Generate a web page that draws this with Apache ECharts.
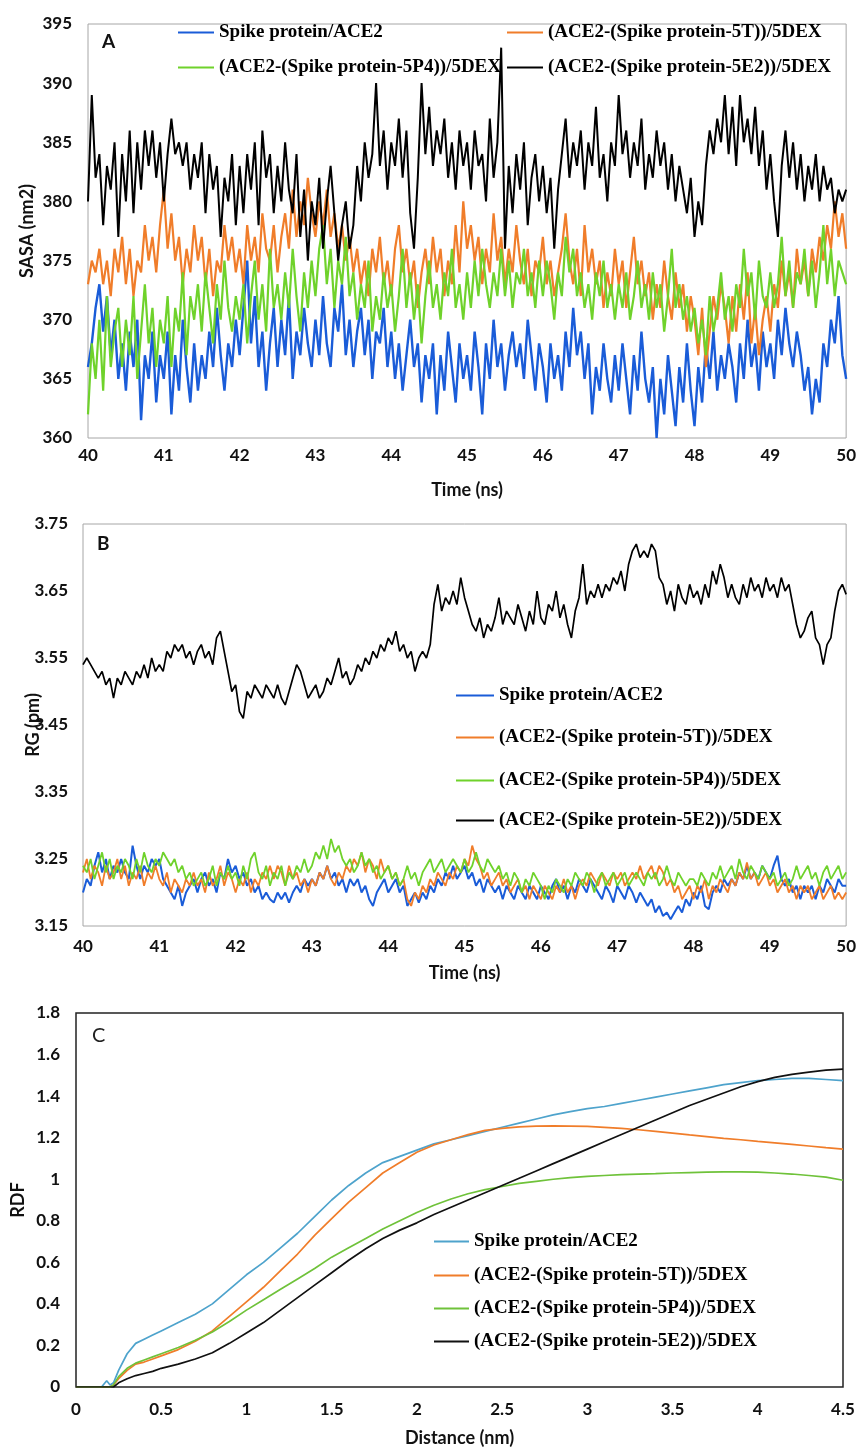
<!DOCTYPE html>
<html>
<head>
<meta charset="utf-8">
<script src="https://cdn.jsdelivr.net/npm/echarts@6.0.0/dist/echarts.min.js"></script>
<style>
html,body{margin:0;padding:0;background:#fff;}
#chart{width:859px;height:1448px;}
</style>
</head>
<body>
<div id="chart"></div>
<script>
// ---------- names ----------
const seriesNames = [
  'Spike protein/ACE2',
  '(ACE2-(Spike protein-5T))/5DEX',
  '(ACE2-(Spike protein-5P4))/5DEX',
  '(ACE2-(Spike protein-5E2))/5DEX'
];

// ---------- time grid (ns), 40 to 50 ----------
const TIME_START = 40, TIME_STEP = 0.05, TIME_COUNT = 201;
const timeNs = Array.from({length: TIME_COUNT}, (_, i) => +(TIME_START + i * TIME_STEP).toFixed(2));

// ---------- Panel A: SASA (nm2) ----------
const sasaBlue = [
  366,368,371,373,369,372,367,370,365,368,
  364,369,366,370,361.5,367,365,369,363,367,
  365,369,362,367,364,370,366,363,368,364,
  367,365,369,366,371,367,364,368,366,370,
  367,371,375,368,372,366,369,364,368,371,
  366,370,367,372,365,369,367,371,368,366,
  370,367,372,368,366,371,369,373,367,370,
  366,369,371,367,370,365,369,368,371,366,
  369,365,368,364,367,370,366,368,363,367,
  365,368,362,367,364,369,366,363,368,365,
  367,364,369,366,362,368,365,370,366,368,
  364,367,369,366,368,365,370,367,364,368,
  366,363,368,365,367,364,369,366,371,367,
  369,365,368,362,366,364,368,365,363,367,
  364,368,365,362,367,364,369,365,363,366,
  360,365,362,367,364,361,366,363,368,364,
  361,366,363,368,365,369,364,367,365,368,
  366,363,368,365,370,366,368,364,369,366,
  368,365,370,367,371,368,366,369,367,364,
  366,362,365,363,368,366,370,368,372,367,
  365
];
const sasaOrange = [
  373,375,374,376,373,375,372,376,374,377,
  373,376,372,375,374,378,375,377,374,378,
  381,376,379,375,377,373,376,374,378,375,
  377,373,376,372,375,374,378,375,377,374,
  376,373,378,375,377,374,379,376,375,378,
  374,377,379,376,381,377,380,378,382,379,
  377,380,378,381,377,379,376,378,375,377,
  374,376,373,375,372,376,374,377,373,375,
  372,376,378,374,376,373,375,371,374,376,
  373,377,374,376,372,375,373,378,374,380,
  376,378,375,377,373,376,374,379,375,377,
  373,376,374,378,375,373,376,372,375,374,
  377,373,375,372,374,376,379,375,373,376,
  372,378,374,376,373,375,371,374,372,376,
  373,375,371,374,377,373,375,372,374,370,
  373,371,375,372,370,374,371,373,369,372,
  370,367,371,366,369,372,370,373,371,368,
  372,369,373,370,374,368,371,367,370,372,
  369,373,371,375,372,374,371,376,373,375,
  372,376,374,377,375,378,376,380,377,379,
  376
];
const sasaGreen = [
  362,368,365,370,364,372,366,369,371,366,
  370,367,372,365,369,373,368,371,366,370,
  368,372,366,371,369,374,367,372,370,373,
  369,374,371,368,373,370,375,371,369,372,
  370,373,368,372,375,370,373,369,376,371,
  373,370,374,371,376,372,369,374,371,375,
  372,376,378,373,376,371,375,373,377,372,
  374,370,373,371,375,369,372,370,374,371,
  373,369,372,376,371,374,370,373,368,372,
  375,371,373,370,374,372,376,371,373,370,
  374,371,375,372,376,373,371,374,372,376,
  372,375,371,374,373,376,372,374,371,375,
  372,375,373,370,374,372,377,374,376,372,
  374,371,373,370,374,372,375,371,373,370,
  373,371,374,370,372,375,371,373,370,374,
  371,373,369,372,376,371,373,370,372,369,
  371,368,370,367,372,369,371,374,370,372,
  369,373,371,376,372,374,370,375,372,371,
  374,371,373,377,372,375,371,374,373,376,
  372,375,371,374,378,373,376,372,375,374,
  373
];
const sasaBlack = [
  380,389,382,384,378,383,381,385,377,384,
  380,386,379,385,381,386,383,386,382,385,
  380,384,387,384,385,383,385,381,384,382,
  385,379,384,381,383,377,382,380,384,378,
  383,379,384,381,385,378,386,382,384,379,
  383,380,385,381,379,384,377,381,375,380,
  378,382,376,380,383,379,375,378,380,376,
  378,383,380,385,382,384,390,383,386,381,
  385,383,387,382,386,379,376,382,390,384,
  388,383,386,384,387,382,385,381,386,383,
  385,381,386,383,384,380,387,382,385,393,
  376,383,379,384,381,385,378,382,384,380,
  383,379,382,376,381,384,387,382,385,383,
  386,381,385,383,388,382,384,380,385,383,
  389,384,386,382,385,383,387,381,384,382,
  386,383,385,381,384,380,383,381,379,382,
  377,380,378,383,386,384,387,385,389,384,
  388,383,389,385,387,384,388,383,386,381,
  384,380,377,383,386,382,385,381,384,380,
  383,381,384,380,383,381,382,379,381,380,
  381
];

// ---------- Panel B: RG (pm) ----------
const rgBlue = [
  3.20,3.22,3.21,3.24,3.26,3.23,3.25,3.22,3.24,3.23,
  3.25,3.23,3.22,3.27,3.24,3.22,3.24,3.23,3.25,3.24,
  3.25,3.22,3.21,3.20,3.19,3.21,3.18,3.20,3.21,3.22,
  3.20,3.22,3.23,3.21,3.22,3.20,3.23,3.22,3.25,3.23,
  3.24,3.22,3.23,3.21,3.22,3.20,3.21,3.19,3.20,3.19,
  3.185,3.20,3.19,3.20,3.185,3.20,3.21,3.20,3.22,3.21,
  3.22,3.21,3.23,3.22,3.24,3.22,3.23,3.21,3.22,3.20,
  3.22,3.21,3.22,3.20,3.21,3.19,3.18,3.20,3.21,3.22,
  3.20,3.21,3.22,3.20,3.21,3.18,3.19,3.20,3.185,3.20,
  3.19,3.21,3.20,3.22,3.21,3.23,3.22,3.24,3.22,3.23,
  3.24,3.22,3.23,3.21,3.22,3.20,3.22,3.21,3.20,3.21,
  3.19,3.21,3.20,3.19,3.21,3.20,3.19,3.21,3.20,3.19,
  3.21,3.20,3.19,3.21,3.22,3.20,3.21,3.19,3.21,3.20,
  3.22,3.21,3.20,3.22,3.21,3.20,3.19,3.21,3.20,3.185,
  3.21,3.20,3.19,3.21,3.20,3.185,3.20,3.19,3.18,3.19,
  3.17,3.18,3.165,3.17,3.16,3.17,3.18,3.17,3.19,3.18,
  3.20,3.19,3.21,3.18,3.175,3.20,3.21,3.20,3.22,3.21,
  3.22,3.21,3.23,3.22,3.24,3.22,3.23,3.22,3.24,3.23,
  3.22,3.24,3.255,3.22,3.21,3.22,3.20,3.21,3.19,3.21,
  3.20,3.21,3.19,3.21,3.20,3.22,3.21,3.20,3.22,3.21,
  3.21
];
const rgOrange = [
  3.23,3.25,3.22,3.24,3.23,3.21,3.24,3.22,3.23,3.25,
  3.22,3.24,3.21,3.23,3.22,3.24,3.21,3.23,3.22,3.24,
  3.22,3.21,3.23,3.20,3.22,3.21,3.20,3.22,3.21,3.23,
  3.21,3.22,3.20,3.23,3.21,3.22,3.24,3.21,3.23,3.22,
  3.20,3.22,3.21,3.23,3.20,3.22,3.21,3.23,3.22,3.24,
  3.22,3.24,3.23,3.21,3.24,3.22,3.23,3.21,3.22,3.20,
  3.22,3.21,3.23,3.22,3.24,3.22,3.21,3.23,3.22,3.24,
  3.23,3.25,3.24,3.26,3.23,3.25,3.24,3.22,3.25,3.23,
  3.24,3.22,3.23,3.21,3.22,3.19,3.18,3.20,3.19,3.21,
  3.20,3.22,3.21,3.23,3.22,3.21,3.23,3.22,3.24,3.23,
  3.25,3.24,3.27,3.25,3.24,3.22,3.23,3.21,3.22,3.23,
  3.21,3.22,3.20,3.21,3.22,3.20,3.21,3.19,3.21,3.20,
  3.19,3.21,3.20,3.19,3.21,3.20,3.22,3.20,3.21,3.19,
  3.21,3.22,3.21,3.23,3.22,3.21,3.23,3.22,3.21,3.23,
  3.22,3.23,3.21,3.22,3.23,3.22,3.24,3.22,3.23,3.24,
  3.22,3.24,3.23,3.21,3.22,3.20,3.21,3.19,3.20,3.21,
  3.19,3.21,3.20,3.22,3.19,3.21,3.20,3.22,3.21,3.20,
  3.22,3.21,3.23,3.22,3.245,3.22,3.23,3.21,3.22,3.23,
  3.21,3.22,3.20,3.21,3.22,3.20,3.21,3.19,3.21,3.20,
  3.21,3.19,3.20,3.21,3.19,3.20,3.21,3.19,3.20,3.19,
  3.20
];
const rgGreen = [
  3.24,3.23,3.25,3.22,3.24,3.26,3.23,3.25,3.22,3.24,
  3.23,3.25,3.24,3.22,3.25,3.23,3.26,3.24,3.23,3.25,
  3.24,3.26,3.25,3.24,3.25,3.23,3.24,3.22,3.23,3.21,
  3.22,3.23,3.21,3.22,3.24,3.21,3.23,3.22,3.24,3.22,
  3.23,3.21,3.24,3.22,3.25,3.26,3.23,3.22,3.24,3.21,
  3.23,3.22,3.24,3.21,3.23,3.22,3.24,3.23,3.25,3.23,
  3.24,3.26,3.25,3.27,3.25,3.28,3.26,3.27,3.25,3.24,
  3.25,3.23,3.24,3.26,3.24,3.25,3.23,3.24,3.22,3.23,
  3.24,3.22,3.23,3.21,3.22,3.24,3.22,3.23,3.21,3.23,
  3.24,3.25,3.23,3.24,3.25,3.23,3.24,3.25,3.24,3.23,
  3.25,3.23,3.24,3.26,3.24,3.23,3.25,3.24,3.23,3.24,
  3.22,3.23,3.21,3.23,3.22,3.20,3.22,3.21,3.23,3.22,
  3.21,3.19,3.21,3.20,3.22,3.21,3.20,3.22,3.21,3.23,
  3.22,3.21,3.23,3.22,3.20,3.22,3.23,3.21,3.22,3.23,
  3.21,3.22,3.23,3.21,3.22,3.23,3.22,3.21,3.23,3.22,
  3.23,3.21,3.22,3.24,3.22,3.21,3.23,3.22,3.21,3.22,
  3.22,3.21,3.23,3.22,3.21,3.23,3.22,3.24,3.22,3.23,
  3.24,3.22,3.25,3.23,3.22,3.24,3.23,3.22,3.24,3.23,
  3.22,3.23,3.21,3.22,3.23,3.21,3.22,3.24,3.22,3.23,
  3.24,3.22,3.23,3.21,3.23,3.24,3.22,3.23,3.24,3.22,
  3.23
];
const rgBlack = [
  3.54,3.55,3.54,3.53,3.52,3.53,3.51,3.52,3.49,3.52,
  3.51,3.53,3.52,3.51,3.53,3.52,3.54,3.52,3.55,3.53,
  3.54,3.53,3.56,3.55,3.57,3.56,3.57,3.55,3.56,3.54,
  3.56,3.57,3.55,3.56,3.54,3.58,3.59,3.56,3.53,3.50,
  3.51,3.47,3.46,3.50,3.49,3.51,3.50,3.49,3.51,3.50,
  3.49,3.51,3.49,3.48,3.50,3.52,3.54,3.53,3.51,3.49,
  3.50,3.51,3.49,3.50,3.52,3.51,3.53,3.55,3.52,3.53,
  3.51,3.52,3.54,3.53,3.55,3.54,3.56,3.55,3.57,3.56,
  3.58,3.57,3.59,3.56,3.57,3.55,3.56,3.53,3.55,3.56,
  3.55,3.57,3.63,3.66,3.62,3.64,3.63,3.65,3.63,3.67,
  3.64,3.62,3.60,3.59,3.61,3.58,3.60,3.59,3.61,3.64,
  3.60,3.62,3.61,3.60,3.63,3.61,3.59,3.62,3.60,3.65,
  3.61,3.60,3.63,3.62,3.65,3.61,3.63,3.60,3.58,3.62,
  3.64,3.69,3.63,3.65,3.64,3.66,3.64,3.66,3.65,3.67,
  3.66,3.68,3.65,3.69,3.71,3.72,3.70,3.71,3.70,3.72,
  3.71,3.67,3.66,3.63,3.65,3.62,3.66,3.64,3.63,3.66,
  3.64,3.65,3.63,3.66,3.64,3.68,3.66,3.69,3.67,3.64,
  3.66,3.64,3.63,3.66,3.64,3.67,3.65,3.66,3.64,3.67,
  3.65,3.66,3.64,3.67,3.65,3.66,3.63,3.60,3.58,3.59,
  3.61,3.62,3.58,3.57,3.54,3.57,3.58,3.62,3.65,3.66,
  3.645
];

// ---------- Panel C: RDF ----------
const rdfDistance = [0,0.1,0.15,0.18,0.2,0.22,0.25,0.3,0.35,0.4,0.45,0.5,0.6,0.7,0.8,0.9,1.0,1.1,1.2,1.3,1.4,1.5,1.6,1.7,1.8,1.9,2.0,2.1,2.2,2.3,2.4,2.5,2.6,2.7,2.8,2.9,3.0,3.1,3.2,3.3,3.4,3.5,3.6,3.7,3.8,3.9,4.0,4.1,4.2,4.3,4.4,4.5];
const rdfBlue = [0,0,0,0.03,0.01,0.02,0.08,0.16,0.21,0.23,0.25,0.27,0.31,0.35,0.40,0.47,0.54,0.60,0.67,0.74,0.82,0.90,0.97,1.03,1.08,1.11,1.14,1.17,1.19,1.21,1.23,1.25,1.27,1.29,1.31,1.325,1.34,1.35,1.365,1.38,1.395,1.41,1.425,1.44,1.455,1.465,1.475,1.48,1.485,1.485,1.48,1.475];
const rdfOrange = [0,0,0,0,0,0.01,0.04,0.08,0.11,0.12,0.135,0.15,0.18,0.22,0.27,0.34,0.41,0.48,0.56,0.64,0.73,0.81,0.89,0.96,1.03,1.08,1.13,1.165,1.19,1.215,1.235,1.245,1.252,1.256,1.257,1.256,1.254,1.25,1.245,1.238,1.23,1.222,1.213,1.205,1.197,1.19,1.182,1.175,1.168,1.16,1.152,1.145];
const rdfGreen = [0,0,0,0,0,0.01,0.05,0.09,0.115,0.13,0.145,0.16,0.19,0.225,0.265,0.315,0.37,0.42,0.47,0.52,0.57,0.625,0.67,0.715,0.76,0.80,0.84,0.875,0.905,0.93,0.95,0.965,0.98,0.99,1.0,1.008,1.014,1.018,1.022,1.025,1.027,1.03,1.032,1.034,1.035,1.035,1.034,1.03,1.025,1.018,1.01,0.995];
const rdfBlack = [0,0,0,0,0,0,0.02,0.04,0.055,0.065,0.075,0.09,0.11,0.135,0.165,0.21,0.26,0.31,0.37,0.43,0.49,0.55,0.61,0.665,0.715,0.755,0.79,0.83,0.865,0.9,0.935,0.97,1.005,1.04,1.075,1.11,1.145,1.18,1.215,1.25,1.285,1.32,1.355,1.385,1.415,1.445,1.47,1.49,1.505,1.515,1.525,1.53];

// ---------- styles ----------
const colorsAB = ['#1a5cd8', '#f07d2a', '#6fd22b', '#000000'];
const colorsC  = ['#4ea3cc', '#f07d2a', '#6fc23a', '#111111'];
const tickFont = {fontFamily: 'Lato', fontWeight: 'bold', fontSize: 17, color: '#111'};
const nameFont = {fontFamily: 'Lato', fontWeight: 'bold', fontSize: 18, color: '#111'};
const legendFont = {fontFamily: 'Liberation Serif', fontWeight: 'bold', fontSize: 19, color: '#000'};

const pairs = (xs, ys) => xs.map((x, i) => [x, ys[i]]);

function mkLegend(name, color, left, centerY, w) {
  return {
    data: [{name: name, itemStyle: {color: color}}],
    left: left, top: centerY - 11,
    padding: 0, icon: 'rect', itemWidth: w, itemHeight: 2,
    textStyle: legendFont, selectedMode: false
  };
}

function mkSeries(name, data, color, width, gi) {
  return {
    type: 'line', name: name, data: data, xAxisIndex: gi, yAxisIndex: gi,
    showSymbol: false, symbol: 'none', silent: true, animation: false,
    lineStyle: {color: color, width: width}, itemStyle: {color: color}
  };
}

const trim = v => String(+(+v).toFixed(2));

function mkAxis(extra, margin, fmt) {
  return Object.assign({
    type: 'value', nameLocation: 'middle', nameTextStyle: nameFont, nameMoveOverlap: false,
    axisLine: {show: false}, axisTick: {show: false}, splitLine: {show: false},
    axisLabel: Object.assign({margin: margin, formatter: fmt || trim}, tickFont)
  }, extra);
}

const option = {
  backgroundColor: '#fff',
  animation: false,
  grid: [
    {left: 88, top: 24, width: 760, height: 414, show: true, borderColor: '#a6a6a6', borderWidth: 1, backgroundColor: 'transparent'},
    {left: 83, top: 524, width: 764, height: 402, show: true, borderColor: '#a6a6a6', borderWidth: 1, backgroundColor: 'transparent'},
    {left: 76, top: 1013, width: 767, height: 374, show: true, borderColor: '#222', borderWidth: 1.5, backgroundColor: 'transparent'}
  ],
  xAxis: [
    mkAxis({gridIndex: 0, min: 40, max: 50, interval: 1, name: 'Time (ns)', nameGap: 43}, 9),
    mkAxis({gridIndex: 1, min: 40, max: 50, interval: 1, name: 'Time (ns)', nameGap: 38}, 12),
    mkAxis({gridIndex: 2, min: 0, max: 4.5, interval: 0.5, name: 'Distance (nm)', nameGap: 42}, 14)
  ],
  yAxis: [
    mkAxis({gridIndex: 0, min: 360, max: 395, interval: 5, name: 'SASA (nm2)', nameGap: 52}, 16),
    mkAxis({gridIndex: 1, min: 3.15, max: 3.75, interval: 0.1, name: 'RG (pm)', nameGap: 41}, 15, v => (+v).toFixed(2)),
    mkAxis({gridIndex: 2, min: 0, max: 1.8, interval: 0.2, name: 'RDF', nameGap: 49}, 16)
  ],
  legend: [
    mkLegend(seriesNames[0], colorsAB[0], 178, 34, 36),
    mkLegend(seriesNames[1], colorsAB[1], 507, 34, 36),
    mkLegend(seriesNames[2], colorsAB[2], 178, 69, 36),
    mkLegend(seriesNames[3], colorsAB[3], 507, 69, 36),
    mkLegend(seriesNames[0], colorsAB[0], 456, 697, 38),
    mkLegend(seriesNames[1], colorsAB[1], 456, 739, 38),
    mkLegend(seriesNames[2], colorsAB[2], 456, 782, 38),
    mkLegend(seriesNames[3], colorsAB[3], 456, 822, 38),
    mkLegend(seriesNames[0], colorsC[0], 434, 1243, 35),
    mkLegend(seriesNames[1], colorsC[1], 434, 1277, 35),
    mkLegend(seriesNames[2], colorsC[2], 434, 1310, 35),
    mkLegend(seriesNames[3], colorsC[3], 434, 1343, 35)
  ],
  graphic: [
    {type: 'text', left: 102, top: 32, style: {text: 'A', fontFamily: 'Lato', fontWeight: 'bold', fontSize: 19, fill: '#111'}},
    {type: 'text', left: 97, top: 534, style: {text: 'B', fontFamily: 'Lato', fontWeight: 'bold', fontSize: 19, fill: '#111'}},
    {type: 'text', left: 92, top: 1026, style: {text: 'C', fontFamily: 'Lato', fontWeight: 'normal', fontSize: 20, fill: '#222'}}
  ],
  series: [
    mkSeries(seriesNames[0], pairs(timeNs, sasaBlue), colorsAB[0], 2.4, 0),
    mkSeries(seriesNames[1], pairs(timeNs, sasaOrange), colorsAB[1], 2.2, 0),
    mkSeries(seriesNames[2], pairs(timeNs, sasaGreen), colorsAB[2], 2.2, 0),
    mkSeries(seriesNames[3], pairs(timeNs, sasaBlack), colorsAB[3], 2, 0),
    mkSeries(seriesNames[0], pairs(timeNs, rgBlue), colorsAB[0], 2, 1),
    mkSeries(seriesNames[1], pairs(timeNs, rgOrange), colorsAB[1], 1.8, 1),
    mkSeries(seriesNames[2], pairs(timeNs, rgGreen), colorsAB[2], 1.8, 1),
    mkSeries(seriesNames[3], pairs(timeNs, rgBlack), colorsAB[3], 1.7, 1),
    mkSeries(seriesNames[0], pairs(rdfDistance, rdfBlue), colorsC[0], 1.7, 2),
    mkSeries(seriesNames[1], pairs(rdfDistance, rdfOrange), colorsC[1], 1.7, 2),
    mkSeries(seriesNames[2], pairs(rdfDistance, rdfGreen), colorsC[2], 1.7, 2),
    mkSeries(seriesNames[3], pairs(rdfDistance, rdfBlack), colorsC[3], 1.7, 2)
  ]
};

const chart = echarts.init(document.getElementById('chart'), null, {width: 859, height: 1448});
chart.setOption(option);
</script>
</body>
</html>
